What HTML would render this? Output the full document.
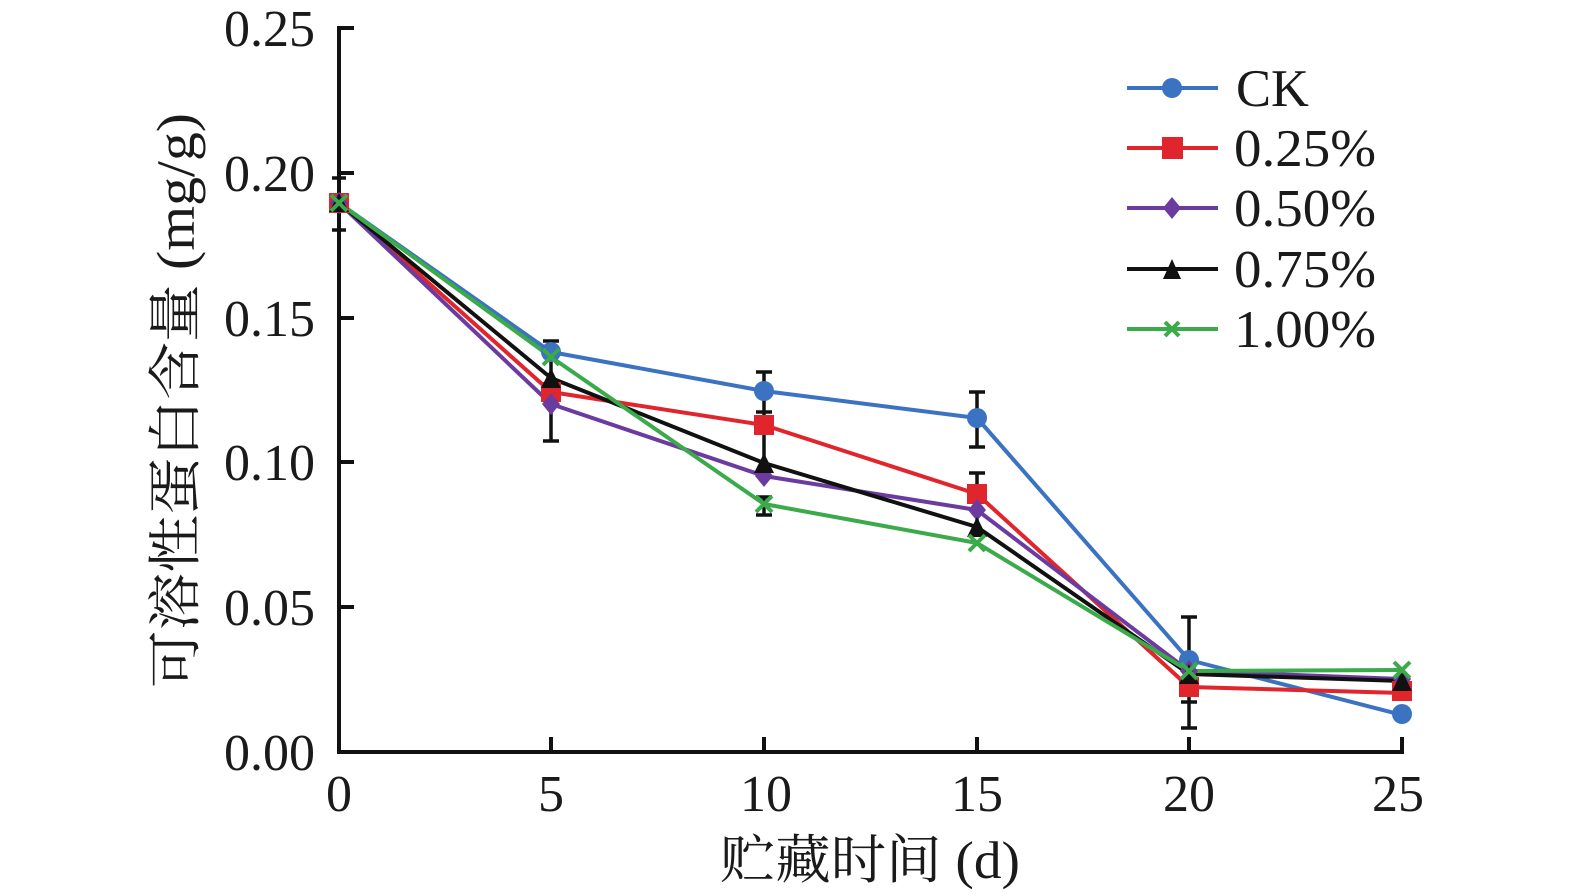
<!DOCTYPE html>
<html>
<head>
<meta charset="utf-8">
<style>
  html, body { margin:0; padding:0; background:#fff; }
  svg { display:block; }
  text { font-family: "Liberation Serif", "Noto Serif CJK SC", serif; fill:#1a1a1a; }
</style>
</head>
<body>
<svg width="1575" height="896" viewBox="0 0 1575 896" xmlns="http://www.w3.org/2000/svg">
  <rect width="1575" height="896" fill="#fff"/>

  <!-- Axes -->
  <g stroke="#111" stroke-width="4" fill="none">
    <line x1="339" y1="26" x2="339" y2="754"/>
    <line x1="337" y1="752" x2="1404" y2="752"/>
    <!-- y ticks -->
    <line x1="339" y1="28" x2="354" y2="28"/>
    <line x1="339" y1="173" x2="354" y2="173"/>
    <line x1="339" y1="318" x2="354" y2="318"/>
    <line x1="339" y1="462" x2="354" y2="462"/>
    <line x1="339" y1="607" x2="354" y2="607"/>
    <!-- x ticks -->
    <line x1="551" y1="752" x2="551" y2="737"/>
    <line x1="764" y1="752" x2="764" y2="737"/>
    <line x1="977" y1="752" x2="977" y2="737"/>
    <line x1="1189" y1="752" x2="1189" y2="737"/>
    <line x1="1402" y1="752" x2="1402" y2="737"/>
  </g>

  <!-- Y tick labels -->
  <g font-size="52" text-anchor="end">
    <text x="315" y="46">0.25</text>
    <text x="315" y="191">0.20</text>
    <text x="315" y="336">0.15</text>
    <text x="315" y="480">0.10</text>
    <text x="315" y="625">0.05</text>
    <text x="315" y="770">0.00</text>
  </g>
  <!-- X tick labels -->
  <g font-size="52" text-anchor="middle">
    <text x="339" y="811">0</text>
    <text x="551" y="811">5</text>
    <text x="766" y="811">10</text>
    <text x="977" y="811">15</text>
    <text x="1189" y="811">20</text>
    <text x="1398" y="811">25</text>
  </g>

  <!-- Axis titles -->
  <text x="720" y="878" font-size="53" textLength="300" lengthAdjust="spacingAndGlyphs">贮藏时间 (d)</text>
  <text transform="translate(194,688) rotate(-90)" x="0" y="0" font-size="54" textLength="575" lengthAdjust="spacingAndGlyphs">可溶性蛋白含量 (mg/g)</text>

  <!-- Error bars -->
  <g stroke="#111" stroke-width="3.5" fill="none">
    <!-- day 0 -->
    <line x1="339" y1="178" x2="339" y2="230"/>
    <line x1="332" y1="178" x2="346" y2="178"/>
    <line x1="332" y1="230" x2="346" y2="230"/>
    <!-- day 5 -->
    <line x1="551" y1="341" x2="551" y2="441"/>
    <line x1="543" y1="341" x2="559" y2="341"/>
    <line x1="543" y1="441" x2="559" y2="441"/>
    <!-- day 10 -->
    <line x1="764" y1="372" x2="764" y2="470"/>
    <line x1="756" y1="372" x2="772" y2="372"/>
    <line x1="756" y1="412" x2="772" y2="412"/>
    <line x1="764" y1="497" x2="764" y2="515"/>
    <line x1="756" y1="497" x2="772" y2="497"/>
    <line x1="756" y1="515" x2="772" y2="515"/>
    <!-- day 15 -->
    <line x1="977" y1="392" x2="977" y2="447"/>
    <line x1="969" y1="392" x2="985" y2="392"/>
    <line x1="969" y1="447" x2="985" y2="447"/>
    <line x1="977" y1="473" x2="977" y2="530"/>
    <line x1="969" y1="473" x2="985" y2="473"/>
    <!-- day 20 -->
    <line x1="1189" y1="617" x2="1189" y2="728"/>
    <line x1="1181" y1="617" x2="1197" y2="617"/>
    <line x1="1181" y1="728" x2="1197" y2="728"/>
    <line x1="1181" y1="702" x2="1197" y2="702"/>
  </g>

  <!-- Series lines -->
  <g fill="none" stroke-width="4" stroke-linejoin="round">
    <polyline stroke="#3b73c2" points="339,203 551,352 764,391 977,418 1189,660 1402,715"/>
    <polyline stroke="#e0262c" points="339,203 551,392 764,425 977,494 1189,687 1402,693"/>
    <polyline stroke="#6b3ba0" points="339,203 551,404 764,476 977,510 1189,671 1402,679"/>
    <polyline stroke="#111111" points="339,203 551,378 764,463 977,527 1189,674 1402,681"/>
    <polyline stroke="#3aaa4a" points="339,203 551,357 764,504 977,543 1189,671 1402,670"/>
  </g>

  <!-- Markers: CK circles -->
  <g fill="#3b73c2">
    <circle cx="339" cy="203" r="10"/>
    <circle cx="551" cy="352" r="10"/>
    <circle cx="764" cy="391" r="10"/>
    <circle cx="977" cy="418" r="10"/>
    <circle cx="1189" cy="660" r="10"/>
    <circle cx="1402" cy="714" r="10"/>
  </g>
  <!-- 0.25% squares -->
  <g fill="#e0262c">
    <rect x="329" y="193" width="20" height="20"/>
    <rect x="541" y="382" width="20" height="20"/>
    <rect x="754" y="415" width="20" height="20"/>
    <rect x="967" y="484" width="20" height="20"/>
    <rect x="1179" y="677" width="20" height="20"/>
    <rect x="1392" y="681" width="20" height="20"/>
  </g>
  <!-- 0.50% diamonds -->
  <g fill="#6b3ba0">
    <polygon points="339,192 348,203 339,214 330,203"/>
    <polygon points="551,393 560,404 551,415 542,404"/>
    <polygon points="764,465 773,476 764,487 755,476"/>
    <polygon points="977,499 986,510 977,521 968,510"/>
    <polygon points="1189,660 1198,671 1189,682 1180,671"/>
    <polygon points="1402,668 1411,679 1402,690 1393,679"/>
  </g>
  <!-- 0.75% triangles -->
  <g fill="#111111">
    <polygon points="339,193 349,212 329,212"/>
    <polygon points="551,368 561,388 541,388"/>
    <polygon points="764,453 774,473 754,473"/>
    <polygon points="977,517 987,537 967,537"/>
    <polygon points="1189,664 1199,684 1179,684"/>
    <polygon points="1402,671 1412,691 1392,691"/>
  </g>
  <!-- 1.00% crosses -->
  <g stroke="#3aaa4a" stroke-width="4" fill="none">
    <path d="M331,195 L347,211 M347,195 L331,211"/>
    <path d="M543,349 L559,365 M559,349 L543,365"/>
    <path d="M756,496 L772,512 M772,496 L756,512"/>
    <path d="M969,535 L985,551 M985,535 L969,551"/>
    <path d="M1181,663 L1197,679 M1197,663 L1181,679"/>
    <path d="M1394,662 L1410,678 M1410,662 L1394,678"/>
  </g>

  <!-- Legend -->
  <g stroke-width="4" fill="none">
    <line x1="1127" y1="88" x2="1218" y2="88" stroke="#3b73c2"/>
    <line x1="1127" y1="148" x2="1218" y2="148" stroke="#e0262c"/>
    <line x1="1127" y1="208" x2="1218" y2="208" stroke="#6b3ba0"/>
    <line x1="1127" y1="269" x2="1218" y2="269" stroke="#111111"/>
    <line x1="1127" y1="329" x2="1218" y2="329" stroke="#3aaa4a"/>
  </g>
  <circle cx="1172" cy="88" r="10" fill="#3b73c2"/>
  <rect x="1162" y="137" width="21" height="22" fill="#e0262c"/>
  <polygon points="1172,197 1181,208 1172,219 1163,208" fill="#6b3ba0"/>
  <polygon points="1172,259 1181,279 1163,279" fill="#111111"/>
  <path d="M1165,322 L1179,336 M1179,322 L1165,336" stroke="#3aaa4a" stroke-width="4" fill="none"/>

  <g font-size="53">
    <text x="1236" y="106" textLength="73" lengthAdjust="spacingAndGlyphs">CK</text>
    <text x="1234" y="166" textLength="142" lengthAdjust="spacingAndGlyphs">0.25%</text>
    <text x="1234" y="226" textLength="142" lengthAdjust="spacingAndGlyphs">0.50%</text>
    <text x="1234" y="287" textLength="142" lengthAdjust="spacingAndGlyphs">0.75%</text>
    <text x="1234" y="347" textLength="142" lengthAdjust="spacingAndGlyphs">1.00%</text>
  </g>
</svg>
</body>
</html>
